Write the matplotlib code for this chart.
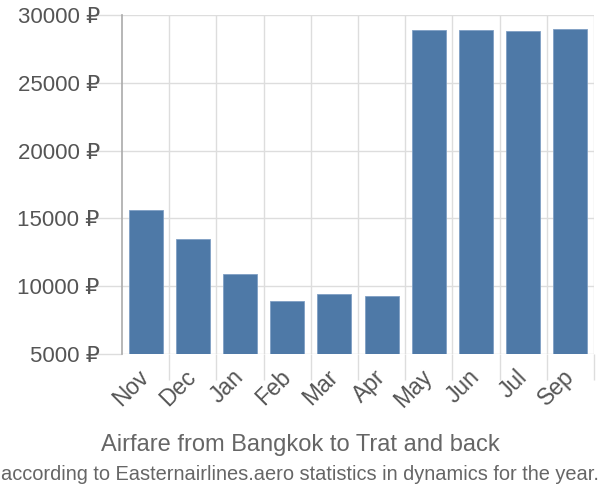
import numpy as np
import matplotlib.pyplot as plt

plt.rcParams['font.family'] = ['Liberation Sans', 'DejaVu Sans']

months = ['Nov', 'Dec', 'Jan', 'Feb', 'Mar', 'Apr', 'May', 'Jun', 'Jul', 'Sep']
prices = [15650, 13450, 10900, 8900, 9400, 9250, 28900, 28900, 28800, 28950]
yticks = [5000, 10000, 15000, 20000, 25000, 30000]

fig = plt.figure(figsize=(6, 5), dpi=100)
ax = fig.add_axes([122 / 600, 146 / 500, 472 / 600, 339 / 500])

x = np.arange(len(months))
ax.bar(x, prices, width=0.72, bottom=0, color='#4e79a7', edgecolor='#7f9fc4',
       linewidth=0.6, zorder=3)

ax.set_xlim(-0.5, len(months) - 0.5)
ax.set_ylim(5000, 30000)

# grid lines between categories, with ticks hanging below the axis
ax.set_xticks(x + 0.5, minor=True)
ax.set_xticks(x)
ax.set_xticklabels(months, rotation=45, ha='right', va='center',
                   rotation_mode='anchor', fontsize=16.5, color='#555555')
ax.tick_params(axis='x', which='major', length=0, pad=14)
ax.tick_params(axis='x', which='minor', length=19, color='#dddddd', width=1)
ax.grid(True, axis='x', which='minor', color='#dddddd', linewidth=1, zorder=0)

ax.set_yticks(yticks)
ax.set_yticklabels([f'{v} ₽' for v in yticks], fontsize=16, color='#555555')
ax.tick_params(axis='y', length=20, color='#dddddd', width=1, pad=-4)
ax.grid(True, axis='y', color='#dddddd', linewidth=1, zorder=0)

for s in ['top', 'right', 'bottom']:
    ax.spines[s].set_visible(False)
ax.spines['left'].set_color('#aaaaaa')
ax.spines['left'].set_linewidth(1.2)

fig.text(0.5, 1 - 445 / 500, 'Airfare from Bangkok to Trat and back',
         ha='center', va='center', fontsize=17, color='#666666')
fig.text(0.5, 1 - 475 / 500,
         'according to Easternairlines.aero statistics in dynamics for the year.',
         ha='center', va='center', fontsize=14.4, color='#666666')

fig.savefig('out.png', dpi=100)
